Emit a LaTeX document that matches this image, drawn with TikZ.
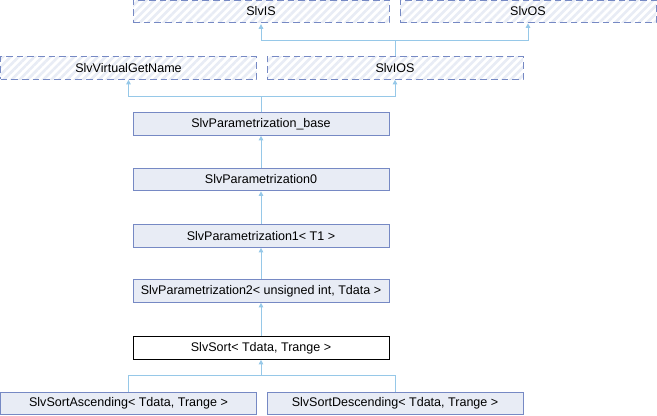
\documentclass[tikz,border=0pt]{standalone}
\usepackage{fontspec}
\setmainfont{Liberation Sans}
\usetikzlibrary{positioning,arrows.meta,patterns.meta}
\definecolor{boxfill}{RGB}{232,236,245}
\definecolor{boxline}{RGB}{118,137,196}
\definecolor{edgeblue}{RGB}{150,200,232}
\tikzset{
    x=0.75pt,
    y=-0.75pt,
    block/.style = {
        draw=boxline,
        fill=boxfill,
        shape=rectangle,
        minimum height=17pt,
        minimum width=192pt,
        inner sep=0pt,
        line width=0.75pt,
        font=\fontsize{9.4}{11}\selectfont
    },
    vblock/.style = {
        block,
        fill=none,
        dash pattern=on 5pt off 3pt,
        pattern={Lines[angle=45,distance=4.2pt,line width=2pt]},
        pattern color=boxfill
    },
    cblock/.style = {
        block,
        draw=black,
        fill=white
    },
    edge/.style = {
        draw=edgeblue,
        line width=0.75pt
    },
    >={Triangle[length=3.5pt,width=3.5pt]},
}

\begin{document}
\begin{tikzpicture}
            \useasboundingbox (0,0) rectangle (657,416);

            \node[vblock] (slvis) at (261,11.5) {SlvIS};
            \node[vblock] (slvos) at (528,11.5) {SlvOS};
            \node[vblock] (vgetname) at (128.5,68) {SlvVirtualGetName};
            \node[vblock] (slvios) at (395,68) {SlvIOS};
            \node[block] (base) at (261,124) {SlvParametrization\_base};
            \node[block] (param0) at (261,179.5) {SlvParametrization0};
            \node[block] (param1) at (261,236) {SlvParametrization1< T1 >};
            \node[block] (param2) at (261,291) {SlvParametrization2< unsigned int, Tdata >};
            \node[cblock] (sort) at (261,348) {SlvSort< Tdata, Trange >};
            \node[block] (asc) at (128.5,403.5) {SlvSortAscending< Tdata, Trange >};
            \node[block] (desc) at (395,403.5) {SlvSortDescending< Tdata, Trange >};

            \coordinate (iosj) at (395,40.5);
            \coordinate (basej) at (261,96.5);
            \coordinate (sortj) at (261,376);

            % SlvIOS
            \path[edge] (slvios.north) -- (iosj);
            \path[edge, ->] (iosj) -| (slvis.south);
            \path[edge, ->] (iosj) -| (slvos.south);

            % base
            \path[edge] (base.north) -- (basej);
            \path[edge, ->] (basej) -| (vgetname.south);
            \path[edge, ->] (basej) -| (slvios.south);

            \path[edge, ->] (param0) -- (base);
            \path[edge, ->] (param1) -- (param0);
            \path[edge, ->] (param2) -- (param1);
            \path[edge, ->] (sort) -- (param2);

            % derived
            \path[edge] (asc.north) |- (sortj);
            \path[edge] (desc.north) |- (sortj);
            \path[edge, ->] (sortj) -- (sort.south);
        \end{tikzpicture}
\end{document}
